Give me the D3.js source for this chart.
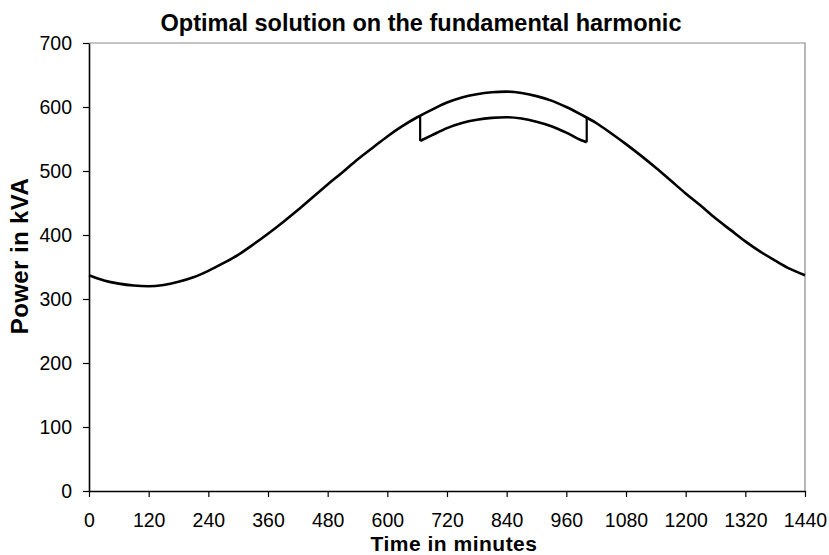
<head>
    <meta name="viewport" content="width=device-width, initial-scale=1">
    <style type="text/css">
        body { margin: 0; background: #ffffff; }
        text { font-family: "Liberation Sans", Arial, sans-serif; }
    </style>
    <script src="https://d3js.org/d3.v7.min.js"></script>
</head>
<body>
    <div id="chart">
        <script>
            // load curve, every 30 minutes
            const times = [0, 30, 60, 90, 120, 150, 180, 210, 240, 270, 300, 330, 360, 390, 420, 450,
                480, 510, 540, 570, 600, 630, 660, 690, 720, 750, 780, 810, 840, 870, 900, 930, 960,
                990, 1020, 1050, 1080, 1110, 1140, 1170, 1200, 1230, 1260, 1290, 1320, 1350, 1380, 1410, 1440];
            const load = [337, 329, 324, 321, 320, 322, 327, 334, 344, 356, 369, 385, 402, 420, 439, 459,
                479, 498, 518, 536, 554, 570, 584, 596, 607, 615, 620, 623, 624, 622, 617, 610, 600,
                588, 575, 559, 542, 524, 505, 485, 465, 446, 426, 408, 390, 374, 360, 347, 337];

            // shifted (reduced) part of the optimal solution
            const shiftTimes = [666, 690, 720, 750, 780, 810, 840, 870, 900, 930, 960, 990, 1001];
            const shiftLoad = [547, 556, 567, 575, 580, 583, 584, 582, 577, 570, 560, 548, 545];
            const jumpTimes = [666, 1001];
            const jumpTop = [587, 584];
            const jumpBottom = [547, 545];

            const xTicks = [0, 120, 240, 360, 480, 600, 720, 840, 960, 1080, 1200, 1320, 1440];
            const yTicks = [0, 100, 200, 300, 400, 500, 600, 700];

            const width = 829, height = 555;
            const margin = {top: 43, right: 24, bottom: 64, left: 89};

            const svg = d3.select("#chart")
                .append("svg")
                .attr("width", width)
                .attr("height", height);

            const x = d3.scaleLinear().domain([0, 1440]).range([margin.left, width - margin.right]);
            const y = d3.scaleLinear().domain([0, 700]).range([height - margin.bottom, margin.top]);

            // top / right border of the plot area
            svg.append("path")
                .attr("d", `M${x(0)},${y(700)}H${x(1440)}V${y(0)}`)
                .attr("fill", "none")
                .attr("stroke", "#8a8a8a")
                .attr("stroke-width", 1.2);

            const xAxis = svg.append("g")
                .attr("transform", `translate(0,${y(0)})`)
                .call(d3.axisBottom(x).tickValues(xTicks).tickFormat(d3.format("d"))
                    .tickSize(6).tickPadding(16).tickSizeOuter(0));

            const yAxis = svg.append("g")
                .attr("transform", `translate(${x(0)},0)`)
                .call(d3.axisLeft(y).tickValues(yTicks).tickSize(6).tickPadding(11).tickSizeOuter(0));

            [xAxis, yAxis].forEach(g => {
                g.select(".domain").attr("stroke", "#000").attr("stroke-width", 1.6);
                g.selectAll(".tick line").attr("stroke", "#000").attr("stroke-width", 1.2);
                g.selectAll(".tick text")
                    .attr("fill", "#000")
                    .style("font-size", "19.5px")
                    .style("font-family", "'Liberation Sans', Arial, sans-serif");
            });

            const line = d3.line()
                .x(d => x(d[0]))
                .y(d => y(d[1]))
                .curve(d3.curveMonotoneX);

            svg.append("path")
                .datum(times.map((t, i) => [t, load[i]]))
                .attr("d", line)
                .attr("fill", "none")
                .attr("stroke", "#000")
                .attr("stroke-width", 2.6);

            svg.append("path")
                .datum(shiftTimes.map((t, i) => [t, shiftLoad[i]]))
                .attr("d", line)
                .attr("fill", "none")
                .attr("stroke", "#000")
                .attr("stroke-width", 2.6);

            svg.selectAll(".jump")
                .data(jumpTimes)
                .enter().append("line")
                .attr("class", "jump")
                .attr("x1", d => x(d))
                .attr("x2", d => x(d))
                .attr("y1", (d, i) => y(jumpTop[i]))
                .attr("y2", (d, i) => y(jumpBottom[i]))
                .attr("stroke", "#000")
                .attr("stroke-width", 2.2);

            svg.append("text")
                .attr("x", 421)
                .attr("y", 31)
                .attr("text-anchor", "middle")
                .style("font-size", "23.5px")
                .style("font-weight", "bold")
                .text("Optimal solution on the fundamental harmonic");

            svg.append("text")
                .attr("x", 454)
                .attr("y", 550.5)
                .attr("text-anchor", "middle")
                .style("font-size", "21px")
                .style("font-weight", "bold")
                .style("letter-spacing", "0.5px")
                .text("Time in minutes");

            svg.append("text")
                .attr("transform", "translate(28,256) rotate(-90)")
                .attr("text-anchor", "middle")
                .style("font-size", "24px")
                .style("font-weight", "bold")
                .style("letter-spacing", "0.4px")
                .text("Power in kVA");
        </script>
    </div>
</body>
